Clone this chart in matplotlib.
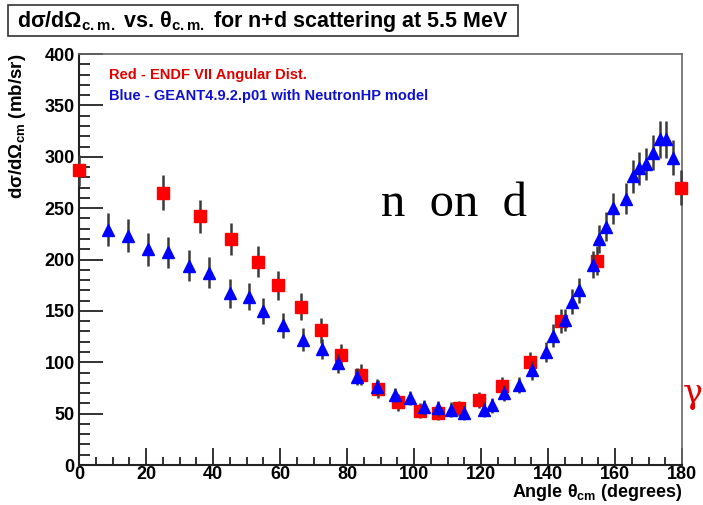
import matplotlib
matplotlib.use("Agg")
import matplotlib.pyplot as plt
from matplotlib.ticker import MultipleLocator
from matplotlib.patches import Rectangle

# ENDF/B-VII angular distribution (red)
endf_angle = [0.0, 25.0, 36.0, 45.4, 53.4, 59.4, 66.3, 72.2, 78.2, 84.2, 89.3,
              95.2, 101.8, 107.2, 113.4, 119.4, 126.3, 134.6, 143.9, 154.6, 179.7]
endf_xs = [287, 265, 242, 220, 198, 175, 154, 131, 107, 88, 74,
           61, 53, 51, 55, 63, 77, 100, 140, 199, 270]
endf_err = [15, 17, 16, 16, 15, 14, 13, 12, 11, 10, 9,
            8, 7, 7, 7, 8, 9, 10, 12, 14, 17]

# GEANT4.9.2.p01 NeutronHP simulation (blue)
g4_angle = [8.7, 14.6, 20.6, 26.6, 32.8, 38.8, 45.1, 50.7, 54.9, 60.9, 66.9,
            72.5, 77.3, 83.0, 89.0, 94.3, 98.8, 103.0, 107.2, 111.0, 115.0,
            121.0, 123.3, 126.9, 131.3, 135.2, 139.4, 141.5, 145.0, 147.2,
            149.3, 153.4, 155.2, 157.3, 159.4, 163.3, 165.4, 167.2, 169.3,
            171.3, 173.4, 175.2, 177.3]
g4_xs = [229, 223, 210, 207, 194, 187, 167, 164, 150, 136, 122,
         113, 99, 86, 76, 68, 65, 56, 55, 54, 51,
         54, 58, 70, 78, 92, 110, 126, 141, 159,
         170, 195, 220, 232, 250, 259, 281, 289, 293,
         304, 317, 317, 299]
g4_err = [16, 16, 16, 15, 15, 15, 14, 13, 13, 12, 11,
          10, 9, 8, 8, 7, 7, 7, 7, 7, 7,
          7, 7, 8, 8, 9, 10, 11, 11, 12,
          12, 13, 14, 14, 15, 15, 16, 16, 16,
          17, 18, 18, 17]

x_ticks = [0, 20, 40, 60, 80, 100, 120, 140, 160, 180]
y_ticks = [0, 50, 100, 150, 200, 250, 300, 350, 400]

plt.rcParams['mathtext.fontset'] = 'custom'
plt.rcParams['mathtext.rm'] = 'Liberation Sans:bold'
plt.rcParams['mathtext.it'] = 'Liberation Sans:bold'
plt.rcParams['mathtext.bf'] = 'Liberation Sans:bold'
plt.rcParams['font.family'] = ['Liberation Sans', 'DejaVu Sans']

fig = plt.figure(figsize=(7.03, 5.05), dpi=100)
ax = fig.add_axes([0.1124, 0.0792, 0.8578, 0.8138])

ebar_col = '#3a3a3a'
ax.errorbar(endf_angle, endf_xs, yerr=endf_err, fmt='s', ms=8,
            mfc='#ff0000', mec='#ff0000', ecolor=ebar_col, elinewidth=1.8,
            capsize=0, zorder=3, clip_on=False)
ax.errorbar(g4_angle, g4_xs, yerr=g4_err, fmt='^', ms=9,
            mfc='#0000ff', mec='#0000ff', ecolor=ebar_col, elinewidth=1.8,
            capsize=0, zorder=4, clip_on=False)

ax.set_xlim(0, 180)
ax.set_ylim(0, 400)
ax.set_xticks(x_ticks)
ax.set_yticks(y_ticks)
ax.xaxis.set_minor_locator(MultipleLocator(5))
ax.yaxis.set_minor_locator(MultipleLocator(10))
ax.tick_params(which='both', direction='in', top=False, right=False,
               color='#222222', width=1.3)
ax.tick_params(axis='y', which='major', length=17, pad=3, labelsize=13)
ax.tick_params(axis='y', which='minor', length=8)
ax.tick_params(axis='x', which='major', length=12, pad=1, labelsize=13)
ax.tick_params(axis='x', which='minor', length=6)
for lab in ax.get_xticklabels() + ax.get_yticklabels():
    lab.set_fontweight('bold')

for side in ('left', 'bottom'):
    ax.spines[side].set_linewidth(1.5)
    ax.spines[side].set_color('#222222')
for side in ('top', 'right'):
    ax.spines[side].set_linewidth(1.2)
    ax.spines[side].set_color('#666666')

ax.set_ylabel(r'$\mathbf{d\sigma/d\Omega_{cm}}$ (mb/sr)', fontsize=13.5,
              fontweight='bold', labelpad=4)
ax.yaxis.set_label_coords(-0.085, 1.0)
ax.yaxis.label.set_ha('right')

# x-axis title sits under the right end of the axis
fig.text(0.971, 0.004, r'Angle $\mathbf{\theta_{cm}}$ (degrees)', fontsize=13,
         fontweight='bold', ha='right', va='bottom')

ax.text(0.05, 0.965, 'Red - ENDF VII Angular Dist.', transform=ax.transAxes,
        color='#e00000', fontsize=10.5, fontweight='bold', va='top')
ax.text(0.05, 0.915, 'Blue - GEANT4.9.2.p01 with NeutronHP model',
        transform=ax.transAxes, color='#1010d0', fontsize=10.5,
        fontweight='bold', va='top')

ax.text(0.5, 0.635, 'n  on  d', transform=ax.transAxes,
        family=['Liberation Serif', 'DejaVu Serif'], fontsize=35,
        va='center', ha='left', color='black')

# Title box
fig.patches.append(Rectangle((0.0115, 0.928), 0.726, 0.063,
                             transform=fig.transFigure, fc='white',
                             ec='#333333', lw=1.2))
fig.text(0.374, 0.958,
         r'd$\mathbf{\sigma}$/d$\mathbf{\Omega_{c.m.}}$ vs. '
         r'$\mathbf{\theta_{c.m.}}$ for n+d scattering at 5.5 MeV',
         ha='center', va='center', fontsize=15.5, fontweight='bold')

# Red symbol at the right edge
fig.text(0.999, 0.22, 'γ', color='#e00000', fontsize=24,
         ha='right', va='center', family=['DejaVu Serif'])

fig.savefig('out.png', dpi=100)
